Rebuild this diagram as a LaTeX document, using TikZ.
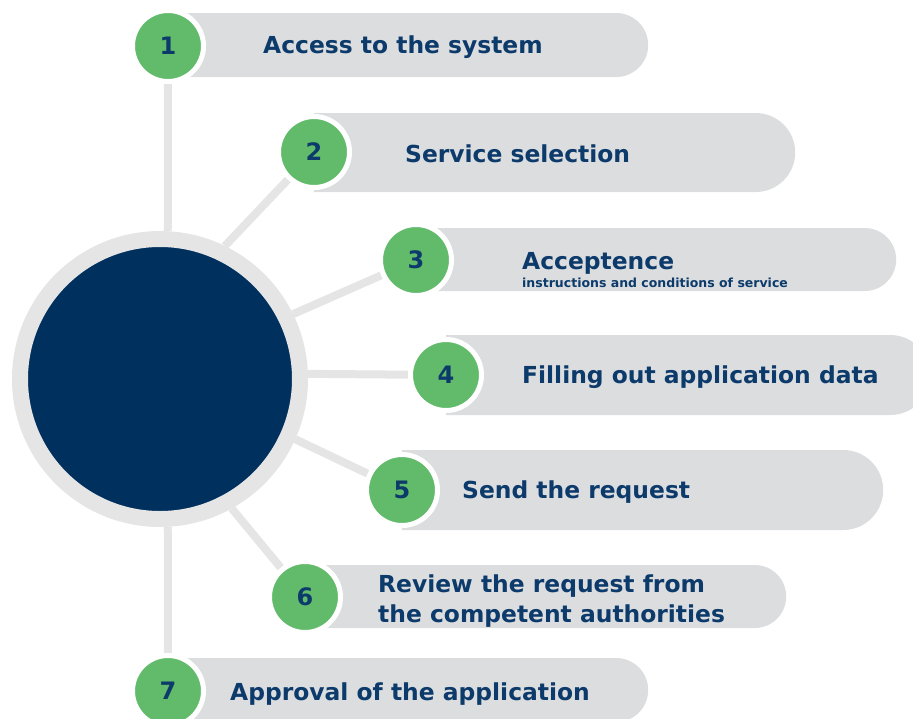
\documentclass[tikz,border=0pt]{standalone}
\usepackage{fontspec}
\setmainfont{DejaVu Sans}
\usepackage{tikz}
\usepackage{xcolor}
\usetikzlibrary{calc,shapes.misc,backgrounds}

\definecolor{hubblue}{HTML}{00305E}
\definecolor{inkblue}{HTML}{0C3A6A}
\definecolor{leafgreen}{HTML}{62BB6A}
\definecolor{pillgray}{HTML}{DCDDDF}
\definecolor{ringgray}{HTML}{E5E5E5}

\begin{document}
\begin{tikzpicture}[x=1pt,y=-1pt]
        \tikzstyle{num}=[circle,fill=leafgreen,draw=white,line width=5pt,minimum size=71pt,inner sep=0pt,text=inkblue,font=\fontsize{24}{24}\selectfont\bfseries]
        \tikzstyle{pill}=[rounded rectangle,rounded rectangle left arc=none,fill=pillgray,inner sep=0pt,anchor=west]
        \tikzstyle{steptext}=[anchor=base west,inner sep=0pt,text=inkblue,font=\fontsize{23.4}{30}\selectfont\bfseries]
        \tikzstyle{spoke}=[draw=ringgray,line width=8pt]
        \clip (0,0) rectangle (913,718);

        % bars behind the numbers
        \node[pill,minimum width=480pt,minimum height=64pt] (11) at (168,45) {};
        \node[pill,minimum width=481pt,minimum height=79pt] (12) at (314,152.5) {};
        \node[pill,minimum width=480pt,minimum height=63pt] (13) at (416,259.5) {};
        \node[pill,minimum width=484pt,minimum height=80pt] (14) at (446,375) {};
        \node[pill,minimum width=481pt,minimum height=80pt] (15) at (402,490) {};
        \node[pill,minimum width=481pt,minimum height=63pt] (16) at (305,596.5) {};
        \node[pill,minimum width=480pt,minimum height=64pt] (17) at (168,690) {};

        \node[circle,fill=hubblue,draw=ringgray,line width=16pt,minimum size=280pt,inner sep=0pt] (0) at (160,379) {};

        \node[num] (1) at (168,46) {1};
        \node[num] (2) at (314,152) {2};
        \node[num] (3) at (416,260) {3};
        \node[num] (4) at (446,375) {4};
        \node[num] (5) at (402,490) {5};
        \node[num] (6) at (305,597) {6};
        \node[num] (7) at (168,691) {7};

        \node[steptext] (21) at ($(1)+(95,7)$) {Access to the system};
        \node[steptext] (22) at ($(2)+(91,10)$) {Service selection};
        \node[steptext] (23) at ($(3)+(106,9)$) {Acceptence};
        \node[steptext,font=\fontsize{12.5}{12.5}\selectfont\bfseries] (33) at ($(23.base west)+(0,18)$) {instructions and conditions of service};
        \node[steptext] (24) at ($(4)+(76,8)$) {Filling out application data};
        \node[steptext] (25) at ($(5)+(60,8)$) {Send the request};
        \node[steptext,align=left] (26) at ($(6)+(73,25)$) {Review the request from\\the competent authorities};
        \node[steptext] (27) at ($(7)+(62,9)$) {Approval of the application};

        \begin{scope}[on background layer]
        \draw[spoke] (0.87) -- (1);
        \draw[spoke] (0.64) -- (2);
        \draw[spoke] (0.26) -- (3);
        \draw[spoke] (0.2) -- (4);
        \draw[spoke] (0.-24) -- (5);
        \draw[spoke] (0.-61) -- (6);
        \draw[spoke] (0.-87) -- (7);
        \end{scope}
    \end{tikzpicture}
\end{document}
